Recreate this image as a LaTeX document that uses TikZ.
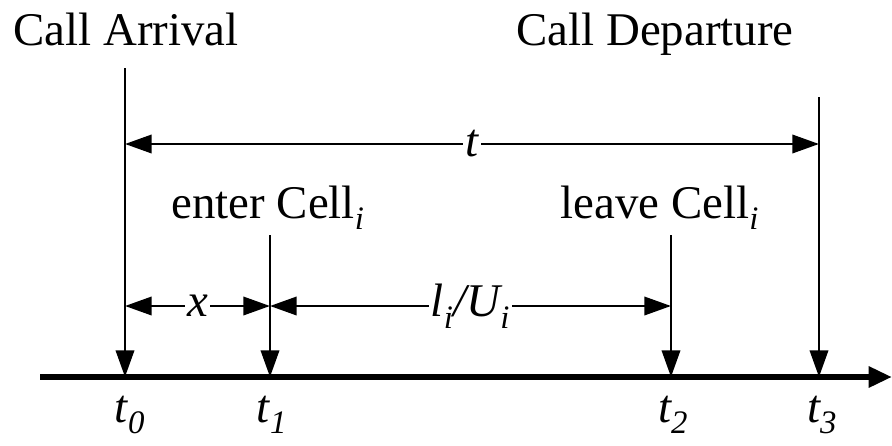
\documentclass[tikz,border=0pt]{standalone}
\usepackage{fontspec}
\setmainfont{Liberation Serif}
\usetikzlibrary{arrows.meta}
\newcommand\isub[1]{\textsubscript{\itshape #1}}

\begin{document}
\begin{tikzpicture}[x=0.03cm,y=-0.03cm,line width=2.2pt,
    >={Triangle[length=0.8cm,width=0.55cm]},
    font=\fontsize{40}{44}\selectfont,
    lbl/.style={fill=white,inner sep=2pt},
    txt/.style={anchor=base}]
  \useasboundingbox (0,0) rectangle (892,446);
  % time line
  \coordinate (axs) at (40,377);
  \coordinate (axe) at (892,377);
  \draw[line width=5pt,-{Triangle[length=0.7cm,width=0.6cm]}] (axs) -- (axe);
  % event arrows
  \coordinate (top0) at (125,68);  \coordinate (bot0) at (125,377);
  \coordinate (top1) at (270,235); \coordinate (bot1) at (270,377);
  \coordinate (top2) at (671,235); \coordinate (bot2) at (671,377);
  \coordinate (top3) at (819,97);  \coordinate (bot3) at (819,377);
  \foreach \k in {0,...,3} \draw[->] (top\k) -- (bot\k);
  % spans
  \coordinate (s0) at (125,144); \coordinate (s3) at (819,144);
  \coordinate (m0) at (125,306); \coordinate (m1) at (270,306); \coordinate (m2) at (671,306);
  \draw[<->] (s0) -- node[lbl]{\itshape t} (s3);
  \draw[<->] (m0) -- node[lbl]{\itshape x} (m1);
  \draw[<->] (m1) -- node[lbl]{\itshape l\isub{i}/U\isub{i}} (m2);
  % texts
  \node[txt] (arrival) at (126,45) {Call Arrival};
  \node[txt] (departure) at (655,45) {Call Departure};
  \node[txt] (enter) at (268,218) {enter Cell\isub{i}};
  \node[txt] (leave) at (660,218) {leave Cell\isub{i}};
  \node[txt] (t0) at (130,422) {\itshape t\isub{0}};
  \node[txt] (t1) at (272,422) {\itshape t\isub{1}};
  \node[txt] (t2) at (673,422) {\itshape t\isub{2}};
  \node[txt] (t3) at (822,422) {\itshape t\isub{3}};
\end{tikzpicture}
\end{document}
